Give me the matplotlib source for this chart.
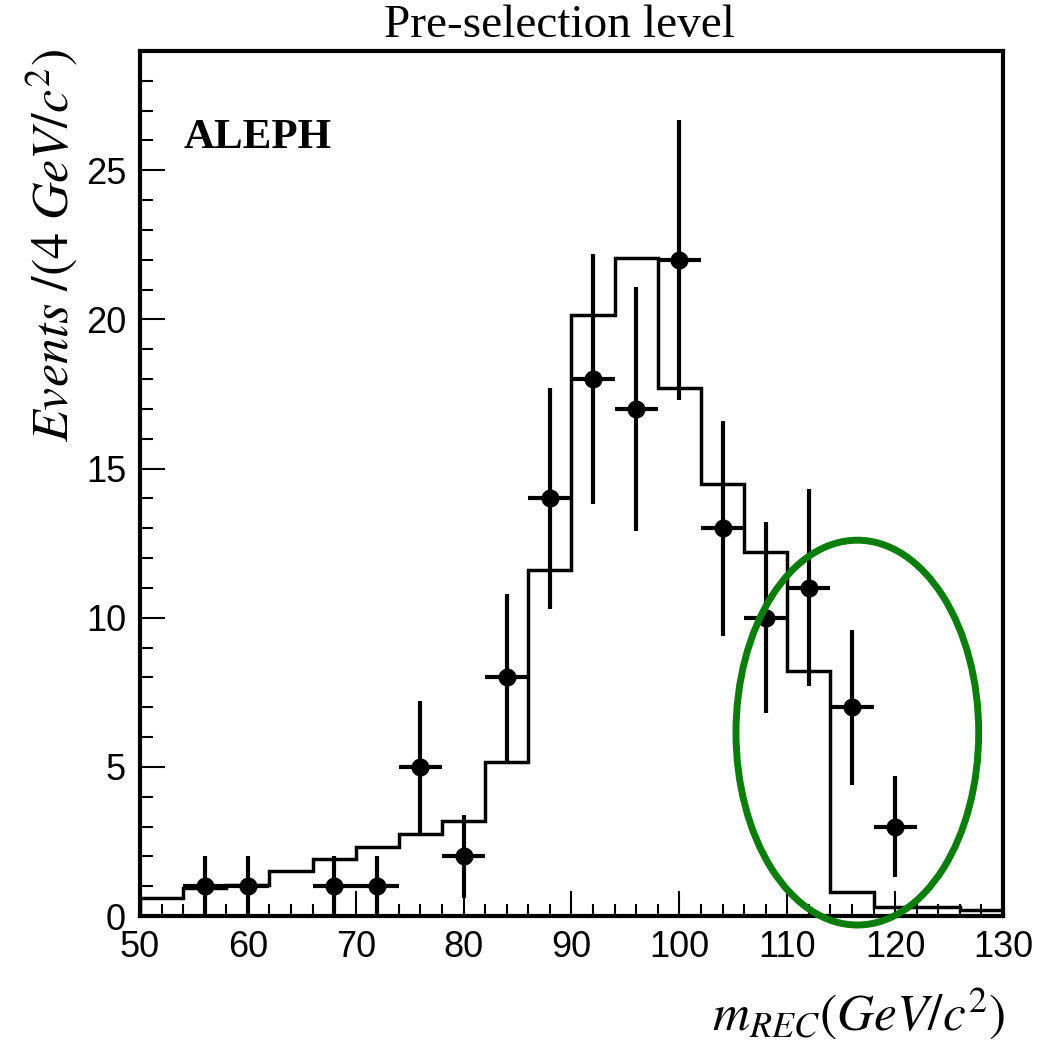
import numpy as np
import matplotlib
matplotlib.use("Agg")
import matplotlib.pyplot as plt
from matplotlib.patches import Ellipse
from matplotlib.ticker import MultipleLocator

plt.rcParams["mathtext.fontset"] = "stix"

# -- Donnees ----------------------------------------------------------------

# Histogramme MC (bins de 4 GeV/c2)
bin_edges = [50, 54, 58, 62, 66, 70, 74, 78, 82, 86, 90, 94, 98, 102, 106, 110, 114, 118, 122, 126, 130]
mc_counts = [0.6, 0.95, 1.05, 1.5, 1.9, 2.3, 2.75, 3.2, 5.15, 11.6, 20.15, 22.05, 17.7, 14.5, 12.2, 8.2, 0.8, 0.3, 0.3, 0.2]

# Points de donnees ALEPH
data_x   = [56, 60, 68, 72, 76, 80, 84, 88, 92, 96, 100, 104, 108, 112, 116, 120]
data_y   = [1, 1, 1, 1, 5, 2, 8, 14, 18, 17, 22, 13, 10, 11, 7, 3]
err_low  = [1.0, 1.0, 1.0, 1.0, 2.2, 1.4, 2.8, 3.7, 4.2, 4.1, 4.7, 3.6, 3.2, 3.3, 2.6, 1.7]
err_high = [1.0, 1.0, 1.0, 1.0, 2.2, 1.4, 2.8, 3.7, 4.2, 4.1, 4.7, 3.6, 3.2, 3.3, 2.6, 1.7]
bin_half = 2

# -- Figure -----------------------------------------------------------------

fig = plt.figure(figsize=(10.4, 10.45), dpi=100)
ax = fig.add_axes([0.1346, 0.1234, 0.8298, 0.8278])

ax.stairs(mc_counts, bin_edges, color="black", linewidth=2.5)

ax.errorbar(data_x, data_y, yerr=[err_low, err_high], xerr=bin_half,
            fmt="o", color="black", markersize=12, elinewidth=3, capsize=0)

# Ellipse verte autour de la region a haute masse
ell = Ellipse((116.5, 6.15), width=22.5, height=12.9, fill=False,
              edgecolor="#0a7d0a", linewidth=5, clip_on=False, zorder=5)
ax.add_patch(ell)

ax.set_xlim(50, 130)
ax.set_ylim(0, 29)

ax.xaxis.set_major_locator(MultipleLocator(10))
ax.xaxis.set_minor_locator(MultipleLocator(2))
ax.yaxis.set_major_locator(MultipleLocator(5))
ax.yaxis.set_minor_locator(MultipleLocator(1))
ax.tick_params(which="both", direction="in", top=False, right=False, width=1.5)
ax.tick_params(which="major", length=18, labelsize=26, pad=10)
ax.tick_params(which="minor", length=9)
for lab in ax.get_xticklabels() + ax.get_yticklabels():
    lab.set_fontfamily("Liberation Sans")

for sp in ax.spines.values():
    sp.set_linewidth(3)

ax.text(0.05, 0.9, "ALEPH", transform=ax.transAxes, fontsize=31,
        fontweight="bold", fontfamily="Liberation Serif", va="center")

fig.text(0.5375, 0.975, "Pre-selection level", ha="center", va="center",
         fontsize=34, fontfamily="Liberation Serif")

fig.text(0.966, 0.03, r"$m_{REC}(GeV/c^2)$", ha="right", va="center", fontsize=37)
fig.text(0.05, 0.953, r"$Events\ /(4\ GeV/c^2)$", ha="center", va="top",
         rotation=90, fontsize=37.5)

fig.savefig("out.png", dpi=100)
